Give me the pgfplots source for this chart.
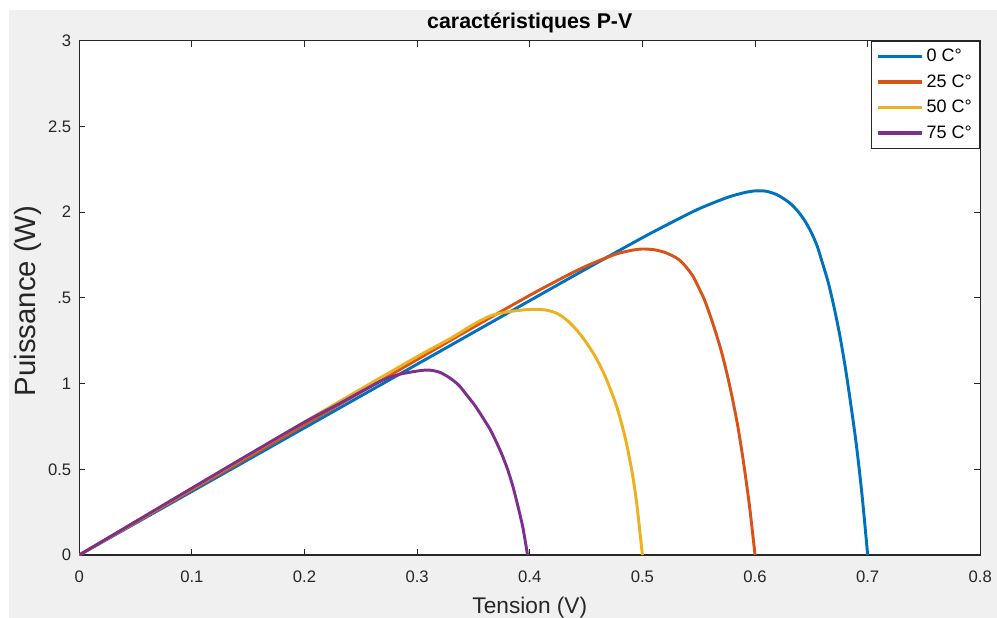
\documentclass[border=0pt]{standalone}
\usepackage{pgfplots}
\pgfplotsset{compat=1.18}
\usepackage{fontspec}
\setmainfont{Liberation Sans}
\definecolor{mblue}{rgb}{0,0.447,0.741}
\definecolor{morange}{rgb}{0.85,0.325,0.098}
\definecolor{myellow}{rgb}{0.929,0.694,0.125}
\definecolor{mpurple}{rgb}{0.494,0.184,0.556}
\definecolor{bgcol}{HTML}{F0F0F0}
\definecolor{axcol}{HTML}{262626}
\begin{document}
\begin{tikzpicture}[x=0.75pt,y=0.75pt]
\path[use as bounding box, fill=white] (0,0) rectangle (997,618);
\fill[bgcol] (9,0) rectangle (997,608);
\begin{axis}[
  at={(59.475pt,47.25pt)}, anchor=south west,
  scale only axis, width=675.75pt, height=385.7pt,
  xmin=0, xmax=0.8, ymin=0, ymax=3,
  axis background/.style={fill=white},
  axis line style={axcol, line width=0.8pt},
  every tick/.style={axcol, line width=0.8pt},
  major tick length=4.5pt,
  xtick={0,0.1,0.2,0.3,0.4,0.5,0.6,0.7,0.8},
  xticklabels={0,0.1,0.2,0.3,0.4,0.5,0.6,0.7,0.8},
  ytick={0,0.5,1,1.5,2,2.5,3},
  yticklabels={0,0.5,1,.5,2,2.5,3},
  tick label style={font=\fontsize{12.5}{14}\selectfont, text=axcol},
  xticklabel style={yshift=-8.5pt},
  yticklabel style={xshift=-2.5pt},
  title={\textbf{caractéristiques P-V}},
  title style={font=\fontsize{16}{18}\selectfont, at={(axis description cs:0.5,1.0208)}, anchor=base, yshift=-5pt, text=black},
  xlabel={Tension (V)},
  xlabel style={font=\fontsize{17}{19}\selectfont, at={(axis description cs:0.5,-0.1128)}, anchor=base, text=axcol},
  ylabel={Puissance (W)},
  ylabel style={font=\fontsize{22}{24}\selectfont, at={(axis description cs:-0.057,0.494)}, anchor=center, rotate=0, text=axcol},
  legend style={at={(1,1)}, anchor=north east, draw=axcol, line width=0.6pt, fill=white,
     font=\fontsize{13.5}{15}\selectfont, row sep=4.2pt, inner xsep=4pt, inner ysep=4pt},
  legend cell align=left,
  legend image code/.code={\draw[#1, line width=2.4pt] (0pt,0pt) -- (33pt,0pt);},
  every axis plot/.append style={line width=2.2pt, line join=round, smooth, tension=0.45},
]
\addplot[mblue] coordinates {
(0,0) (0.05,0.1855) (0.1,0.371) (0.15,0.5565) (0.2,0.742) (0.25,0.9275) (0.3,1.113) (0.35,1.2985) (0.4,1.484) (0.45,1.669) (0.5,1.851) (0.525,1.937) (0.55,2.019) (0.575,2.085) (0.59,2.113) (0.6,2.124) (0.61,2.122) (0.62,2.100) (0.63,2.058) (0.635,2.027) (0.64,1.989) (0.645,1.941) (0.65,1.881) (0.655,1.805) (0.66,1.70) (0.665,1.59) (0.67,1.45) (0.675,1.29) (0.68,1.10) (0.685,0.88) (0.69,0.64) (0.695,0.35) (0.70,0)
};
\addlegendentry{0 C°}
\addplot[morange] coordinates {
(0,0) (0.05,0.19) (0.1,0.38) (0.15,0.57) (0.2,0.76) (0.25,0.95) (0.3,1.14) (0.35,1.329) (0.4,1.515) (0.43,1.62) (0.45,1.685) (0.475,1.752) (0.49,1.777) (0.5,1.785) (0.51,1.781) (0.52,1.765) (0.53,1.734) (0.535,1.708) (0.54,1.67) (0.545,1.625) (0.55,1.56) (0.555,1.49) (0.56,1.40) (0.565,1.30) (0.57,1.19) (0.575,1.06) (0.58,0.91) (0.585,0.74) (0.59,0.53) (0.595,0.29) (0.6,0)
};
\addlegendentry{25 C°}
\addplot[myellow] coordinates {
(0,0) (0.05,0.194) (0.1,0.388) (0.15,0.582) (0.2,0.776) (0.25,0.968) (0.3,1.157) (0.33,1.265) (0.35,1.345) (0.365,1.395) (0.38,1.418) (0.395,1.43) (0.406,1.433) (0.415,1.428) (0.424,1.41) (0.433,1.37) (0.4416,1.313) (0.449,1.25) (0.4564,1.177) (0.462,1.11) (0.4683,1.021) (0.4772,0.865) (0.4845,0.690) (0.4905,0.496) (0.4949,0.302) (0.5,0)
};
\addlegendentry{50 C°}
\addplot[mpurple] coordinates {
(0,0) (0.05,0.195) (0.1,0.39) (0.15,0.584) (0.2,0.775) (0.23,0.88) (0.25,0.952) (0.27,1.022) (0.285,1.055) (0.3,1.073) (0.31,1.079) (0.32,1.066) (0.3294,1.031) (0.337,0.99) (0.344,0.933) (0.3515,0.87) (0.3587,0.797) (0.365,0.73) (0.3706,0.655) (0.375,0.59) (0.38,0.505) (0.385,0.40) (0.39,0.27) (0.394,0.155) (0.398,0)
};
\addlegendentry{75 C°}
\end{axis}
\end{tikzpicture}
\end{document}
